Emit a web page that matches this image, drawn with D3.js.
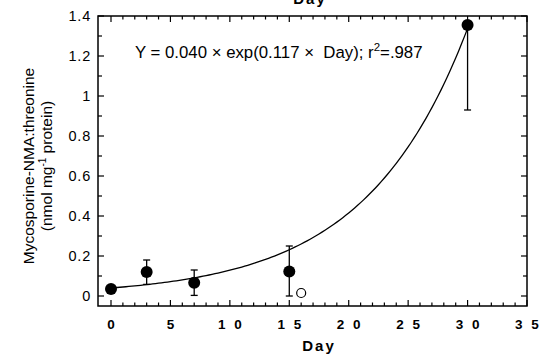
<!DOCTYPE html>
<html>
<head>
<meta charset="utf-8">
<script src="https://cdn.jsdelivr.net/npm/d3@7"></script>
<style>
  html, body { margin: 0; padding: 0; background: #fff; }
  svg { display: block; font-family: "Liberation Sans", Arial, sans-serif; }
  text { white-space: pre; }
</style>
</head>
<body>
<svg id="chart" width="542" height="360"></svg>
<script>
// Mean values (filled circles) with error bar limits
const days   = [0, 3, 7, 15, 30];
const means  = [0.035, 0.12, 0.066, 0.122, 1.355];
const errLow = [0.035, 0.058, 0.003, 0.0, 0.93];
const errHigh= [0.035, 0.18, 0.13, 0.25, 1.355];

// Single open-circle observation
const openDay = [16];
const openVal = [0.015];

// Exponential fit parameters: Y = a * exp(b * Day)
const fitA = 0.040;
const fitB = 0.117;
const fitDays = d3.range(0, 30.01, 0.25);

const xTickLabels = ["0", "5", "1 0", "1 5", "2 0", "2 5", "3 0", "3 5"];
const yTickLabels = ["0", "0.2", "0.4", "0.6", "0.8", "1", "1.2", "1.4"];

const svg = d3.select("#chart");
const frame = { left: 98, right: 527, top: 16, bottom: 306 };

const x = d3.scaleLinear().domain([0, 35]).range([111, 527]);
const y = d3.scaleLinear().domain([0, 1.4]).range([296, 16]);

// Clipped title from the panel above
svg.append("text")
  .attr("x", 310).attr("y", 4)
  .attr("text-anchor", "middle")
  .attr("font-size", 15).attr("font-weight", "bold")
  .attr("letter-spacing", 2)
  .text("Day");

// Plot frame
svg.append("rect")
  .attr("x", frame.left).attr("y", frame.top)
  .attr("width", frame.right - frame.left)
  .attr("height", frame.bottom - frame.top)
  .attr("fill", "none").attr("stroke", "#000").attr("stroke-width", 1.5);

// Inward ticks on all four sides
const ticks = svg.append("g").attr("stroke", "#000").attr("stroke-width", 1.2);
d3.range(0, 36, 1).forEach(d => {
  const len = d % 5 === 0 ? 6 : 3.5;
  ticks.append("line").attr("x1", x(d)).attr("x2", x(d))
    .attr("y1", frame.bottom).attr("y2", frame.bottom - len);
  ticks.append("line").attr("x1", x(d)).attr("x2", x(d))
    .attr("y1", frame.top).attr("y2", frame.top + len);
});
d3.range(0, 15, 1).forEach(i => {
  const v = i / 10;
  const len = i % 2 === 0 ? 6 : 4;
  ticks.append("line").attr("x1", frame.left).attr("x2", frame.left + len)
    .attr("y1", y(v)).attr("y2", y(v));
  ticks.append("line").attr("x1", frame.right).attr("x2", frame.right - len)
    .attr("y1", y(v)).attr("y2", y(v));
});

// Tick labels
const xls = 2.5;
svg.append("g").selectAll("text").data(xTickLabels).join("text")
  .attr("x", (d, i) => x(i * 5) + xls / 2)
  .attr("y", 329)
  .attr("text-anchor", "middle")
  .attr("font-size", 13.5).attr("font-weight", "bold")
  .attr("letter-spacing", xls)
  .text(d => d);

svg.append("g").selectAll("text").data(yTickLabels).join("text")
  .attr("x", 91)
  .attr("y", (d, i) => y(i * 0.2) + 5)
  .attr("text-anchor", "end")
  .attr("font-size", 14.5)
  .attr("letter-spacing", 0.8)
  .text(d => d);

// Axis titles
svg.append("text")
  .attr("x", 319).attr("y", 351)
  .attr("text-anchor", "middle")
  .attr("font-size", 15).attr("font-weight", "bold")
  .attr("letter-spacing", 2)
  .text("Day");

const yl = svg.append("g").attr("transform", "translate(34,166) rotate(-90)");
yl.append("text").attr("x", 0).attr("y", 0)
  .attr("text-anchor", "middle").attr("font-size", 15.5)
  .text("Mycosporine-NMA:threonine");
const yl2 = yl.append("text").attr("x", 0).attr("y", 18)
  .attr("text-anchor", "middle").attr("font-size", 15.5);
yl2.append("tspan").text("(nmol mg");
yl2.append("tspan").attr("dy", -6).attr("font-size", 10).text("-1");
yl2.append("tspan").attr("dy", 6).text(" protein)");

// Fitted exponential curve
const line = d3.line().x(d => x(d)).y(d => y(fitA * Math.exp(fitB * d)));
svg.append("path").datum(fitDays)
  .attr("d", line)
  .attr("fill", "none").attr("stroke", "#000").attr("stroke-width", 1.3);

// Error bars
const eb = svg.append("g").attr("stroke", "#000").attr("stroke-width", 1.3);
days.forEach((d, i) => {
  if (errHigh[i] - errLow[i] < 0.001) return;
  eb.append("line").attr("x1", x(d)).attr("x2", x(d))
    .attr("y1", y(errLow[i])).attr("y2", y(errHigh[i]));
  [errLow[i], errHigh[i]].forEach(v => {
    if (Math.abs(v - means[i]) < 0.001) return;
    eb.append("line").attr("x1", x(d) - 3.5).attr("x2", x(d) + 3.5)
      .attr("y1", y(v)).attr("y2", y(v));
  });
});

// Filled markers
svg.append("g").selectAll("circle").data(days).join("circle")
  .attr("cx", d => x(d))
  .attr("cy", (d, i) => y(means[i]))
  .attr("r", 6)
  .attr("fill", "#000");

// Open marker
svg.append("g").selectAll("circle").data(openDay).join("circle")
  .attr("cx", d => x(d))
  .attr("cy", (d, i) => y(openVal[i]))
  .attr("r", 4.5)
  .attr("fill", "#fff").attr("stroke", "#000").attr("stroke-width", 1.2);

// Fit equation
const eq = svg.append("text").attr("x", 135).attr("y", 58).attr("font-size", 16.8);
eq.append("tspan").text("Y = 0.040 \u00d7 exp(0.117 \u00d7  Day); r");
eq.append("tspan").attr("dy", -7).attr("font-size", 11.5).text("2");
eq.append("tspan").attr("dy", 7).text("=.987");
</script>
</body>
</html>
